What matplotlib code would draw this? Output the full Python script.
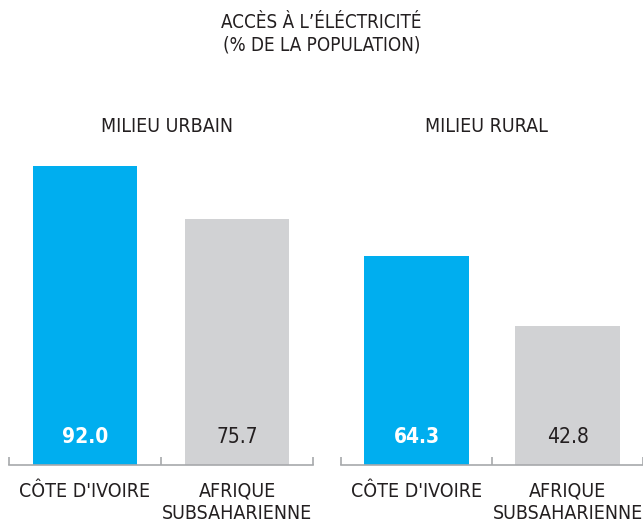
import matplotlib
matplotlib.use("Agg")
import matplotlib.pyplot as plt
from matplotlib import font_manager

# data
panels = ["MILIEU URBAIN", "MILIEU RURAL"]
categories = ["CÔTE D'IVOIRE", "AFRIQUE\nSUBSAHARIENNE"]
urbain = [92.0, 75.7]
rural = [64.3, 42.8]
title = "ACCÈS À L’ÉLÉCTRICITÉ\n(% DE LA POPULATION)"

BLUE = "#00AEEF"
GREY = "#D1D2D4"
TXT = "#231F20"
AXC = "#A7A9AC"


def find_condensed(weight_ok):
    for f in font_manager.fontManager.ttflist:
        narrow = (str(f.stretch) in ("condensed", "semi-condensed",
                                     "extra-condensed")
                  or "Condensed" in f.name or "Narrow" in f.name
                  or "ondensed" in f.fname or "Narrow" in f.fname)
        if narrow and f.style == "normal" and weight_ok(f.weight):
            return f.fname
    return None


def wnum(w):
    try:
        return int(w)
    except (TypeError, ValueError):
        return {"normal": 400, "regular": 400, "bold": 700}.get(str(w), 400)


reg = find_condensed(lambda w: wnum(w) == 400)
bold = find_condensed(lambda w: wnum(w) >= 600)
if reg:
    fp = font_manager.FontProperties(fname=reg)
else:
    fp = font_manager.FontProperties(family="Roboto")
if bold:
    fpb = font_manager.FontProperties(fname=bold)
else:
    fpb = font_manager.FontProperties(family="Roboto", weight="bold")

W, H = 643, 527
fig = plt.figure(figsize=(W / 100, H / 100), dpi=100)


def sized(p, s):
    q = p.copy()
    q.set_size(s)
    return q


def panel(x0, x1, vals, name, name_x):
    ax = fig.add_axes([x0 / W, (H - 465) / H, (x1 - x0) / W, 325 / H])
    xs = range(len(vals))
    ax.bar(xs, vals, width=0.69, color=[BLUE, GREY])
    ax.set_xlim(-0.5, 1.5)
    ax.set_ylim(0, 100)
    for s in ["top", "left", "right"]:
        ax.spines[s].set_visible(False)
    ax.spines["bottom"].set_color(AXC)
    ax.spines["bottom"].set_linewidth(1.2)
    ax.set_yticks([])
    ax.set_xticks([-0.5, 0.5, 1.5])
    ax.set_xticklabels([])
    ax.tick_params(axis="x", which="major", direction="in", length=6,
                   color=AXC, width=1.2)
    ax.set_xticks(list(xs), minor=True)
    ax.set_xticklabels(categories, minor=True, fontproperties=sized(fp, 14),
                       color=TXT, linespacing=1.2)
    ax.tick_params(axis="x", which="minor", length=0, pad=12)
    for i, v in enumerate(vals):
        if i == 0:
            ax.text(i, 8.6, f"{v:.1f}", ha="center", va="center",
                    color="white", fontproperties=sized(fpb, 15))
        else:
            ax.text(i, 8.6, f"{v:.1f}", ha="center", va="center",
                    color=TXT, fontproperties=sized(fp, 15))
    ax.text(name_x, (465 - 127) / 325, name, transform=ax.transAxes,
            ha="center", va="center", fontproperties=sized(fp, 14),
            color=TXT)
    return ax


panel(9, 313, urbain, panels[0], 0.52)
panel(341, 643, rural, panels[1], 0.48)

fig.text(0.5, 1 - 34 / H, title, ha="center", va="center",
         fontproperties=sized(fp, 13.5), color=TXT, linespacing=1.2)

fig.savefig("out.png", dpi=100)
